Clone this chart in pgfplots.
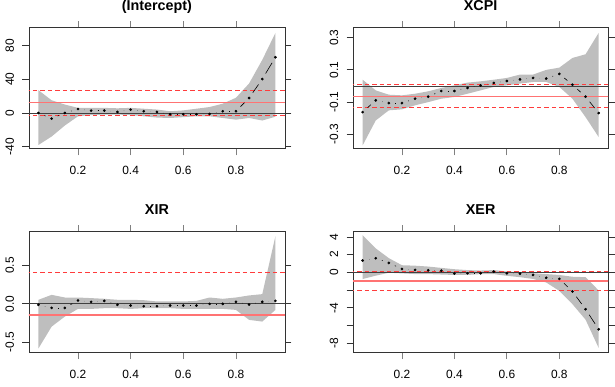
\documentclass[border=0pt]{standalone}
\usepackage{fontspec}
\setmainfont{Liberation Sans}
\usepackage{pgfplots}
\usepackage{pgfplotstable}
\pgfplotsset{compat=1.18}
\usepgfplotslibrary{fillbetween}
\definecolor{band}{RGB}{190,190,190}
\definecolor{olsred}{RGB}{255,115,115}
\definecolor{cired}{RGB}{255,60,60}

\pgfplotstableread{
t y lo hi d
0.05 0 -38 27 -6.7
0.10 -6.7 -28 15 6.7
0.15 0 -15 10 4.7
0.20 4.7 -4 6 -1.9
0.25 2.8 -2.5 6 0
0.30 2.8 -2 6 -1.6
0.35 1.2 -2 5.5 2.7
0.40 3.9 -2.5 6 -1.9
0.45 2.0 -4 5 -0.8
0.50 1.2 -5.5 4 -2.8
0.55 -1.6 -6 2 0
0.60 -1.6 -5 3 0
0.65 -1.6 -4 5 0.4
0.70 -1.2 -4 7 3.2
0.75 2.0 -6 11 0
0.80 2.0 -8 18 15.7
0.85 17.7 -6 35 22.5
0.90 40.2 -9 63 25.9
0.95 66.1 -4.5 95 0
}\tabA

\pgfplotstableread{
t y lo hi d
0.05 -0.162 -0.369 0.039 0.073
0.10 -0.089 -0.214 -0.027 -0.017
0.15 -0.106 -0.151 -0.054 0
0.20 -0.106 -0.145 -0.058 0.027
0.25 -0.079 -0.120 -0.048 0.013
0.30 -0.066 -0.100 -0.033 0.035
0.35 -0.031 -0.079 -0.012 0
0.40 -0.031 -0.068 0.004 0.019
0.45 -0.012 -0.048 0.021 0.016
0.50 0.004 -0.027 0.029 0.015
0.55 0.019 -0.006 0.039 0.012
0.60 0.031 0.004 0.050 0.010
0.65 0.041 0.015 0.071 0.009
0.70 0.050 0.025 0.071 -0.004
0.75 0.046 0.025 0.100 0.029
0.80 0.075 -0.006 0.114 -0.067
0.85 0.008 -0.079 0.174 -0.074
0.90 -0.066 -0.193 0.197 -0.102
0.95 -0.168 -0.317 0.330 0
}\tabB

\pgfplotstableread{
t y lo hi d
0.05 -0.013 -0.583 0.053 -0.040
0.10 -0.053 -0.298 0.118 0
0.15 -0.053 -0.167 0.083 0.097
0.20 0.044 -0.066 0.083 -0.018
0.25 0.026 -0.066 0.075 0.013
0.30 0.039 -0.057 0.066 -0.052
0.35 -0.013 -0.057 0.053 -0.009
0.40 -0.022 -0.066 0.053 -0.009
0.45 -0.031 -0.057 0.048 0
0.50 -0.031 -0.057 0.031 0.009
0.55 -0.022 -0.057 0.031 0
0.60 -0.022 -0.066 0.031 0
0.65 -0.022 -0.066 0.039 0.022
0.70 0 -0.066 0.083 0
0.75 0 -0.066 0.066 0.026
0.80 0.026 -0.079 0.083 -0.035
0.85 -0.009 -0.210 0.110 0.035
0.90 0.026 -0.232 0.127 0.013
0.95 0.039 -0.079 0.886 0
}\tabC

\pgfplotstableread{
t y lo hi d
0.05 1.33 -0.76 4.2 0.26
0.10 1.59 -0.38 2.7 -0.53
0.15 1.06 -0.05 1.6 -0.68
0.20 0.38 -0.12 0.8 -0.11
0.25 0.27 -0.2 0.75 -0.04
0.30 0.23 -0.2 0.65 -0.04
0.35 0.19 -0.25 0.5 -0.34
0.40 -0.15 -0.3 0.35 0.04
0.45 -0.11 -0.3 0.25 0
0.50 -0.11 -0.2 0.2 0.19
0.55 0.08 -0.2 0.25 -0.19
0.60 -0.11 -0.4 0.1 -0.04
0.65 -0.15 -0.55 0.0 -0.15
0.70 -0.30 -0.75 -0.1 -0.32
0.75 -0.62 -1.15 -0.2 -0.12
0.80 -0.74 -2.1 -0.3 -1.42
0.85 -2.16 -3.6 -0.5 -2.01
0.90 -4.17 -5.35 -0.55 -2.27
0.95 -6.44 -8.55 -2.05 0
}\tabD

% fraction of a segment hidden at each end (gap of about 6.5 bp round each point)
\newcommand{\gapf}[1]{(6.55/sqrt(172.5+(\thisrow{d}*#1)^2))}

\pgfplotsset{
  rqpanel/.style={
    scale only axis, width=256bp, height=121bp,
    xmin=0.014, xmax=0.986,
    xtick={0.2,0.4,0.6,0.8}, xticklabels={0.2,0.4,0.6,0.8},
    tick align=outside, major tick length=6.5bp,
    xtick style={black!50, line width=0.8bp},
    ytick style={black!80, line width=0.8bp},
    axis line style={black!80, line width=0.8bp},
    xticklabel style={font=\fontsize{12}{14}\selectfont, anchor=base, inner sep=0pt, yshift=-19.5bp},
    yticklabel style={font=\fontsize{12}{14}\selectfont, xshift=-8.5bp, rotate=90, anchor=base, inner sep=0pt},
    title style={font=\bfseries\fontsize{14.4}{16}\selectfont, anchor=base, yshift=11.5bp, inner sep=0pt},
  },
  segs/.style={black, line width=0.6bp, -, restrict x to domain=0:0.94,
    quiver={u={0.05*(1-2*\gapf{#1})}, v={\thisrow{d}*(1-2*\gapf{#1})}}},
  pts/.style={only marks, mark=*, mark size=1.15bp, black},
  zero/.style={black!75, line width=0.8bp},
  ols/.style={olsred, line width=1.6bp},
  ci/.style={cired, line width=1.1bp, dash pattern=on 4.5bp off 3bp},
}

\begin{document}
\begin{tikzpicture}
\path (0,0) rectangle (615bp,385bp);

% Panel 1
\begin{axis}[rqpanel, at={(29bp,238bp)}, anchor=south west,
  title={(Intercept)}, ymin=-42.6, ymax=101,
  ytick={-40,0,40,80}, yticklabels={-40,0,40,80}]
\addplot[draw=none, name path=U1] table[x=t,y=hi]{\tabA};
\addplot[draw=none, name path=L1] table[x=t,y=lo]{\tabA};
\addplot[band] fill between[of=U1 and L1];
\addplot[zero] coordinates {(0,0) (1,0)};
\addplot[ols] coordinates {(0,12.2) (1,12.2)};
\addplot[ci] coordinates {(0,26.8) (1,26.8)};
\addplot[ci] coordinates {(0,-2.8) (1,-2.8)};
\addplot[segs=0.8426] table[x expr={\thisrow{t}+0.05*\gapf{0.8426}}, y expr={\thisrow{y}+\thisrow{d}*\gapf{0.8426}}]{\tabA};
\addplot[pts] table[x=t,y=y]{\tabA};
\end{axis}

% Panel 2
\begin{axis}[rqpanel, width=255bp, at={(353.3bp,238bp)}, anchor=south west,
  title={XCPI}, ymin=-0.39, ymax=0.361,
  ytick={-0.3,-0.1,0.1,0.3}, yticklabels={-0.3,-0.1,0.1,0.3}]
\addplot[draw=none, name path=U2] table[x=t,y=hi]{\tabB};
\addplot[draw=none, name path=L2] table[x=t,y=lo]{\tabB};
\addplot[band] fill between[of=U2 and L2];
\addplot[zero] coordinates {(0,0) (1,0)};
\addplot[ols] coordinates {(0,-0.064) (1,-0.064)};
\addplot[ci] coordinates {(0,0.012) (1,0.012)};
\addplot[ci] coordinates {(0,-0.133) (1,-0.133)};
\addplot[segs=161.1] table[x expr={\thisrow{t}+0.05*\gapf{161.1}}, y expr={\thisrow{y}+\thisrow{d}*\gapf{161.1}}]{\tabB};
\addplot[pts] table[x=t,y=y]{\tabB};
\end{axis}

% Panel 3
\begin{axis}[rqpanel, at={(29bp,34bp)}, anchor=south west,
  title={XIR}, ymin=-0.64, ymax=0.943,
  ytick={-0.5,0,0.5}, yticklabels={-0.5,0.0,0.5}]
\addplot[draw=none, name path=U3] table[x=t,y=hi]{\tabC};
\addplot[draw=none, name path=L3] table[x=t,y=lo]{\tabC};
\addplot[band] fill between[of=U3 and L3];
\addplot[zero] coordinates {(0,0) (1,0)};
\addplot[ols] coordinates {(0,-0.149) (1,-0.149)};
\addplot[ci] coordinates {(0,0.412) (1,0.412)};
\addplot[segs=76.44] table[x expr={\thisrow{t}+0.05*\gapf{76.44}}, y expr={\thisrow{y}+\thisrow{d}*\gapf{76.44}}]{\tabC};
\addplot[pts] table[x=t,y=y]{\tabC};
\end{axis}

% Panel 4
\begin{axis}[rqpanel, width=255bp, at={(353.3bp,34bp)}, anchor=south west,
  title={XER}, ymin=-9.09, ymax=4.58,
  ytick={-8,-6,-4,-2,0,2,4}, yticklabels={-8,,-4,,0,2,4}]
\addplot[draw=none, name path=U4] table[x=t,y=hi]{\tabD};
\addplot[draw=none, name path=L4] table[x=t,y=lo]{\tabD};
\addplot[band] fill between[of=U4 and L4];
\addplot[zero] coordinates {(0,0) (1,0)};
\addplot[ols] coordinates {(0,-0.95) (1,-0.95)};
\addplot[ci] coordinates {(0,0.11) (1,0.11)};
\addplot[ci] coordinates {(0,-2.08) (1,-2.08)};
\addplot[segs=8.851] table[x expr={\thisrow{t}+0.05*\gapf{8.851}}, y expr={\thisrow{y}+\thisrow{d}*\gapf{8.851}}]{\tabD};
\addplot[pts] table[x=t,y=y]{\tabD};
\end{axis}
\end{tikzpicture}
\end{document}
